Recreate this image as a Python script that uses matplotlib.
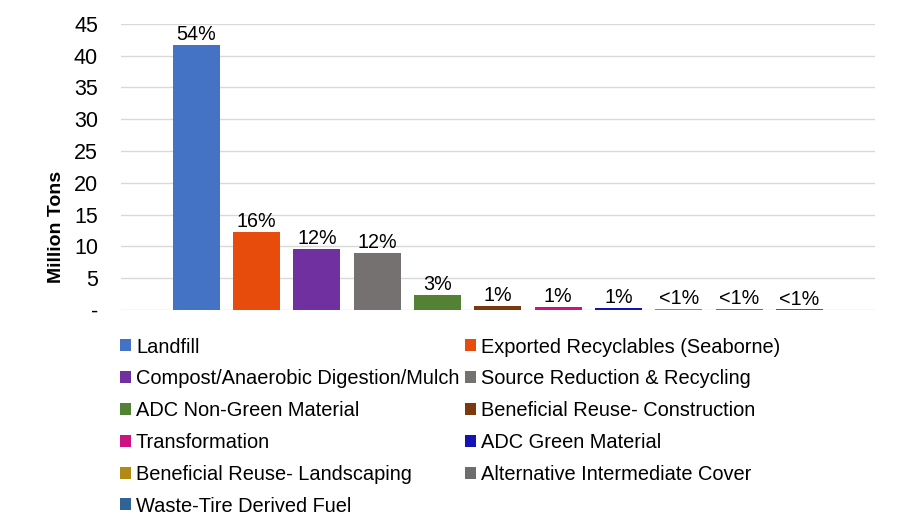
import matplotlib.pyplot as plt
from matplotlib.patches import Patch

plt.rcParams['font.family'] = ['Liberation Sans', 'DejaVu Sans']

# 数据
categories = ['Landfill', 'Exported Recyclables (Seaborne)',
              'Compost/Anaerobic Digestion/Mulch', 'Source Reduction & Recycling',
              'ADC Non-Green Material', 'Beneficial Reuse- Construction',
              'Transformation', 'ADC Green Material',
              'Beneficial Reuse- Landscaping', 'Alternative Intermediate Cover',
              'Waste-Tire Derived Fuel']
values = [41.6, 12.2, 9.55, 9.0, 2.3, 0.65, 0.5, 0.35, 0.2, 0.1, 0.08]
pct_labels = ['54%', '16%', '12%', '12%', '3%', '1%', '1%', '1%', '<1%', '<1%', '<1%']
colors = ['#4472C4', '#E84C0C', '#7030A0', '#767171', '#548235', '#7B3A0E',
          '#CC1480', '#1414B4', '#B08A14', '#6E6E6E', '#2E6496']
yticks = [0, 5, 10, 15, 20, 25, 30, 35, 40, 45]
ytick_labels = ['-', '5', '10', '15', '20', '25', '30', '35', '40', '45']

fig = plt.figure(figsize=(9.16, 5.29), dpi=100)
ax = fig.add_axes([0.132, 0.414, 0.823, 0.541])

x = list(range(len(categories)))
ax.bar(x, values, width=0.78, color=colors, zorder=3)

for xi, v, lab in zip(x, values, pct_labels):
    ax.text(xi, v + 0.15, lab, ha='center', va='bottom', fontsize=14.2, color='#000000')

ax.set_xlim(-1.25, 11.25)
ax.set_ylim(0, 45)
ax.set_yticks(yticks)
ax.set_yticklabels(ytick_labels, fontsize=15.5)
ax.set_xticks([])
ax.tick_params(axis='y', length=0, pad=16.5)
ax.yaxis.grid(True, color='#D9D9D9', linewidth=1, zorder=0)
for s in ax.spines.values():
    s.set_visible(False)
ax.set_ylabel('Million Tons', fontsize=14, fontweight='bold', va='center')
ax.yaxis.set_label_coords(-0.086, 0.29)

# 图例（按行排列，所以重排给列优先的legend）
handles = [Patch(facecolor=c, edgecolor='none') for c in colors]
order = list(range(0, 11, 2)) + list(range(1, 11, 2))
fig.legend([handles[i] for i in order], [categories[i] for i in order],
           ncol=2, loc='upper left', bbox_to_anchor=(0.131, 0.362),
           frameon=False, fontsize=14.4, handlelength=0.55, handleheight=0.55,
           handletextpad=0.25, columnspacing=0.3, labelspacing=0.64,
           borderpad=0, borderaxespad=0)

fig.savefig('out.png', dpi=100)
